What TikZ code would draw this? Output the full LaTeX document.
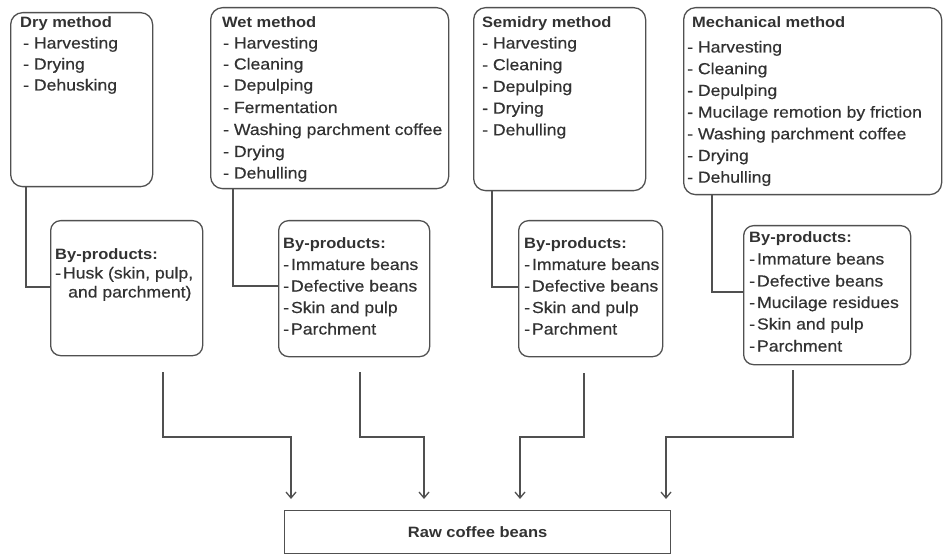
\documentclass[tikz,border=0pt]{standalone}
\usepackage{fontspec}
\setmainfont{Liberation Sans}[FakeStretch=1.1, UprightFeatures={FakeBold=0.5}]
\usetikzlibrary{arrows.meta}
\definecolor{txt}{RGB}{50,50,50}
\definecolor{linec}{RGB}{80,80,80}
\tikzset{
  topbox/.style={draw=linec, line width=1.3pt, rounded corners=12pt, anchor=north west, inner sep=0pt},
  bpbox/.style={draw=linec, line width=1.3pt, rounded corners=10pt, anchor=north west, inner sep=0pt},
  ttl/.style={anchor=base west, inner sep=0pt, text=txt, font=\fontsize{15}{18}\selectfont\bfseries},
  itm/.style={anchor=base west, inner sep=0pt, text=txt, font=\fontsize{16}{19}\selectfont},
  conn/.style={draw=linec, line width=1.3pt},
  arr/.style={conn, -{Straight Barb[length=6pt,width=10pt,line width=1.3pt]}, shorten >=11pt}
}
\begin{document}
\begin{tikzpicture}[x=1pt,y=-1pt]
\useasboundingbox (0,0) rectangle (943,556);

% top method boxes
\node[topbox, minimum width=142pt, minimum height=174pt] (dry) at (10,12) {};
\node[topbox, minimum width=238pt, minimum height=181pt] (wet) at (210,7) {};
\node[topbox, minimum width=172pt, minimum height=183pt] (semi) at (473,7) {};
\node[topbox, minimum width=258pt, minimum height=187pt] (mech) at (683,7) {};

% by-product boxes
\node[bpbox, minimum width=152pt, minimum height=135pt] (drybp) at (50,220) {};
\node[bpbox, minimum width=151pt, minimum height=136pt] (wetbp) at (278,220) {};
\node[bpbox, minimum width=144pt, minimum height=136pt] (semibp) at (518,220) {};
\node[bpbox, minimum width=167pt, minimum height=139pt] (mechbp) at (743,225) {};

% raw coffee beans
\node[draw=linec, line width=1.3pt, anchor=north west, minimum width=386pt, minimum height=43pt,
      text=txt, font=\fontsize{15}{18}\selectfont\bfseries] (raw) at (284,510) {Raw coffee beans};

% texts: dry method
\node[ttl] (dryt) at (20,27.5) {Dry method};
\node[itm] (dry1) at (23,48.5) {- Harvesting};
\node[itm] (dry2) at (23,69.5) {- Drying};
\node[itm] (dry3) at (23,90.5) {- Dehusking};

% wet method
\node[ttl] (wett) at (222,27.5) {Wet method};
\node[itm] (wet1) at (223,48.5) {- Harvesting};
\node[itm] (wet2) at (223,69.5) {- Cleaning};
\node[itm] (wet3) at (223,90.5) {- Depulping};
\node[itm] (wet4) at (223,113) {- Fermentation};
\node[itm] (wet5) at (223,135) {- Washing parchment coffee};
\node[itm] (wet6) at (223,157) {- Drying};
\node[itm] (wet7) at (223,178.5) {- Dehulling};

% semidry method
\node[ttl] (semit) at (482,27.5) {Semidry method};
\node[itm] (semi1) at (482,48.5) {- Harvesting};
\node[itm] (semi2) at (482,70.2) {- Cleaning};
\node[itm] (semi3) at (482,91.9) {- Depulping};
\node[itm] (semi4) at (482,113.6) {- Drying};
\node[itm] (semi5) at (482,135.3) {- Dehulling};

% mechanical method
\node[ttl] (mecht) at (692,27.5) {Mechanical method};
\node[itm] (mech1) at (687,52.5) {- Harvesting};
\node[itm] (mech2) at (687,74.2) {- Cleaning};
\node[itm] (mech3) at (687,95.9) {- Depulping};
\node[itm] (mech4) at (687,117.6) {- Mucilage remotion by friction};
\node[itm] (mech5) at (687,139.3) {- Washing parchment coffee};
\node[itm] (mech6) at (687,161) {- Drying};
\node[itm] (mech7) at (687,182.7) {- Dehulling};

% by-products texts
\node[ttl] (drybpt) at (55,259.5) {By-products:};
\node[itm] (drybp1) at (55,278.5) {-\hspace{2pt}Husk (skin, pulp,};
\node[itm] (drybp2) at (68,297.5) {and parchment)};

\node[ttl] (wetbpt) at (283,248.5) {By-products:};
\node[itm] (wetbp1) at (283,270) {-\hspace{2pt}Immature beans};
\node[itm] (wetbp2) at (283,291.5) {-\hspace{2pt}Defective beans};
\node[itm] (wetbp3) at (283,313) {-\hspace{2pt}Skin and pulp};
\node[itm] (wetbp4) at (283,334.5) {-\hspace{2pt}Parchment};

\node[ttl] (semibpt) at (524,248.5) {By-products:};
\node[itm] (semibp1) at (524,270) {-\hspace{2pt}Immature beans};
\node[itm] (semibp2) at (524,291.5) {-\hspace{2pt}Defective beans};
\node[itm] (semibp3) at (524,313) {-\hspace{2pt}Skin and pulp};
\node[itm] (semibp4) at (524,334.5) {-\hspace{2pt}Parchment};

\node[ttl] (mechbpt) at (749,242.5) {By-products:};
\node[itm] (mechbp1) at (749,264.5) {-\hspace{2pt}Immature beans};
\node[itm] (mechbp2) at (749,286.5) {-\hspace{2pt}Defective beans};
\node[itm] (mechbp3) at (749,308) {-\hspace{2pt}Mucilage residues};
\node[itm] (mechbp4) at (749,329.5) {-\hspace{2pt}Skin and pulp};
\node[itm] (mechbp5) at (749,351.5) {-\hspace{2pt}Parchment};

% connectors from method boxes to by-product boxes
\coordinate (dryj) at (26,287);
\coordinate (wetj) at (233,286);
\coordinate (semij) at (492,287);
\coordinate (mechj) at (712,292);
\draw[conn] (dry.south -| dryj) |- (drybp.west |- dryj);
\draw[conn] (wet.south -| wetj) |- (wetbp.west |- wetj);
\draw[conn] (semi.south -| semij) |- (semibp.west |- semij);
\draw[conn] (mech.south -| mechj) |- (mechbp.west |- mechj);

% arrows to raw coffee beans
\coordinate (s1) at (163,372);
\coordinate (s2) at (360,372);
\coordinate (s3) at (584,373);
\coordinate (s4) at (793,370);
\coordinate (t1) at (291,437);
\coordinate (t2) at (424,437);
\coordinate (t3) at (520,437);
\coordinate (t4) at (666,437);
\draw[arr] (s1) |- (t1) -- (t1 |- raw.north);
\draw[arr] (s2) |- (t2) -- (t2 |- raw.north);
\draw[arr] (s3) |- (t3) -- (t3 |- raw.north);
\draw[arr] (s4) |- (t4) -- (t4 |- raw.north);
\end{tikzpicture}
\end{document}
